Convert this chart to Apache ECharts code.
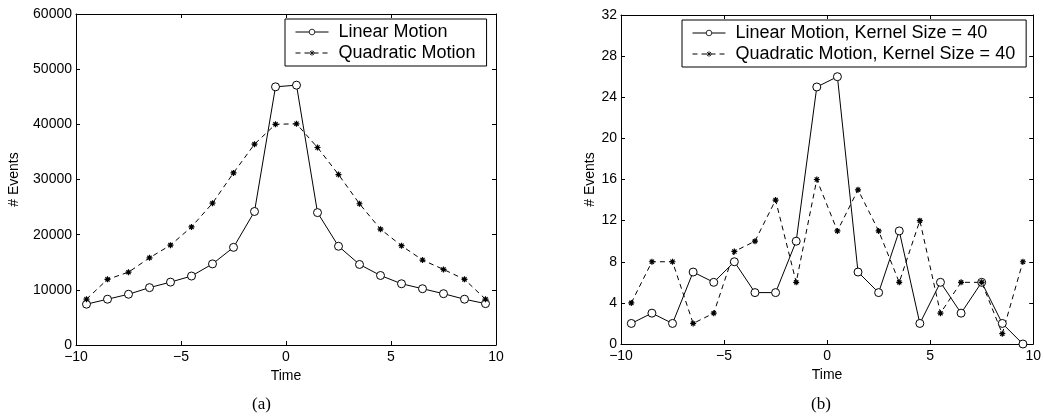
<!DOCTYPE html>
<html>
<head>
<meta charset="utf-8">
<script src="https://cdn.jsdelivr.net/npm/echarts@6/dist/echarts.min.js"></script>
<style>
  html, body { margin: 0; padding: 0; background: #fff; }
  #chart { width: 1044px; height: 417px; }
</style>
</head>
<body>
<div id="chart"></div>
<script>
// data
var times = [-9.5, -8.5, -7.5, -6.5, -5.5, -4.5, -3.5, -2.5, -1.5, -0.5,
             0.5, 1.5, 2.5, 3.5, 4.5, 5.5, 6.5, 7.5, 8.5, 9.5]

// (a) total events
var linearA = [7400, 8300, 9200, 10400, 11400, 12500, 14700, 17700, 24200, 46800,
               47100, 24000, 17900, 14600, 12600, 11100, 10200, 9300, 8300, 7500]
var quadA = [8300, 11900, 13200, 15800, 18100, 21400, 25700, 31200, 36400, 40000,
             40100, 35800, 30900, 25600, 21000, 18000, 15400, 13700, 11900, 8300]

// (b) kernel size 40
var linearB = [2, 3, 2, 7, 6, 8, 5, 5, 10, 25, 26, 7, 5, 11, 2, 6, 3, 6, 2, 0]
var quadB = [4, 8, 8, 2, 3, 9, 10, 14, 6, 16, 11, 15, 11, 6, 12, 3, 6, 6, 1, 8]

var namesA = ['Linear Motion', 'Quadratic Motion']
var namesB = ['Linear Motion, Kernel Size = 40', 'Quadratic Motion, Kernel Size = 40']
var captions = ['(a)', '(b)']

var font = 'Liberation Sans, Arial, sans-serif'
var star = 'path://M0 5L10 5M5 0L5 10M1.5 1.5L8.5 8.5M1.5 8.5L8.5 1.5'

function pairs (ys) {
  return times.map((t, i) => [t, ys[i]])
}
function minus (v) {
  return String(v).replace('-', '\u2212')
}

var chart = echarts.init(document.getElementById('chart'))

// 主坐标轴（下/左）
function xMain (grid) {
  return {
    type: 'value', gridIndex: grid, min: -10, max: 10, interval: 5,
    name: 'Time', nameLocation: 'middle', nameGap: 17,
    nameTextStyle: { fontSize: 14, fontFamily: font, color: '#000' },
    axisLine: { onZero: false, lineStyle: { color: '#000', width: 1 } },
    axisTick: { inside: true, length: 4, lineStyle: { color: '#000' } },
    axisLabel: { fontSize: 14, fontFamily: font, color: '#000', margin: 5, formatter: minus },
    splitLine: { show: false }
  }
}
// 镜像刻度（上/右）
function xTop (grid) {
  return {
    type: 'value', gridIndex: grid, position: 'top', min: -10, max: 10, interval: 5,
    axisLine: { onZero: false, lineStyle: { color: '#000', width: 1 } },
    axisTick: { inside: true, length: 4, lineStyle: { color: '#000' } },
    axisLabel: { show: false },
    splitLine: { show: false }
  }
}
function yMain (grid, max, interval, gap) {
  return {
    type: 'value', gridIndex: grid, min: 0, max: max, interval: interval,
    name: '# Events', nameLocation: 'middle', nameGap: gap,
    nameTextStyle: { fontSize: 14, fontFamily: font, color: '#000' },
    axisLine: { show: true, onZero: false, lineStyle: { color: '#000', width: 1 } },
    axisTick: { show: true, inside: true, length: 4, lineStyle: { color: '#000' } },
    axisLabel: { fontSize: 14, fontFamily: font, color: '#000', margin: 4, formatter: v => String(v) },
    splitLine: { show: false }
  }
}
function yRight (grid, max, interval) {
  return {
    type: 'value', gridIndex: grid, position: 'right', min: 0, max: max, interval: interval,
    axisLine: { show: true, onZero: false, lineStyle: { color: '#000', width: 1 } },
    axisTick: { show: true, inside: true, length: 4, lineStyle: { color: '#000' } },
    axisLabel: { show: false },
    splitLine: { show: false }
  }
}

function lineSeries (name, xi, yi, ys) {
  return {
    name: name, type: 'line', xAxisIndex: xi, yAxisIndex: yi,
    data: pairs(ys), symbol: 'circle', symbolSize: 8,
    lineStyle: { color: '#000', width: 1 },
    itemStyle: { color: '#fff', borderColor: '#000', borderWidth: 1 },
    animation: false
  }
}
function dashSeries (name, xi, yi, ys) {
  return {
    name: name, type: 'line', xAxisIndex: xi, yAxisIndex: yi,
    data: pairs(ys), symbol: star, symbolSize: 6,
    lineStyle: { color: '#000', width: 1, type: [5, 4] },
    itemStyle: { color: '#000', borderColor: '#000', borderWidth: 1.2 },
    animation: false
  }
}

function legend (names, left, top) {
  return {
    data: names, orient: 'vertical', left: left, top: top,
    backgroundColor: '#fff', borderColor: '#000', borderWidth: 1,
    padding: [4, 11, 4, 10], itemGap: 3, itemWidth: 33, itemHeight: 7,
    lineStyle: { width: 1 },
    itemStyle: { borderWidth: 0.8 },
    textStyle: { fontSize: 18, fontFamily: font, color: '#000', lineHeight: 18, padding: [0, 0, 0, 5] },
    selectedMode: false
  }
}

chart.setOption({
  animation: false,
  grid: [
    { left: 76, top: 14, width: 420, height: 331 },
    { left: 621, top: 15, width: 416, height: 329 }
  ],
  xAxis: [xMain(0), xTop(0), xMain(1), xTop(1)],
  yAxis: [yMain(0, 60000, 10000, 55), yRight(0, 60000, 10000), yMain(1, 32, 4, 19), yRight(1, 32, 4)],
  legend: [legend(namesA, 285, 19), legend(namesB, 682, 20)],
  series: [
    lineSeries(namesA[0], 0, 0, linearA),
    dashSeries(namesA[1], 0, 0, quadA),
    lineSeries(namesB[0], 2, 2, linearB),
    dashSeries(namesB[1], 2, 2, quadB)
  ],
  graphic: [
    { type: 'text', left: 252, top: 396, style: { text: captions[0], fontSize: 17, fontFamily: 'Liberation Serif, serif', fill: '#000' } },
    { type: 'text', left: 811, top: 396, style: { text: captions[1], fontSize: 17, fontFamily: 'Liberation Serif, serif', fill: '#000' } }
  ]
})
</script>
</body>
</html>
